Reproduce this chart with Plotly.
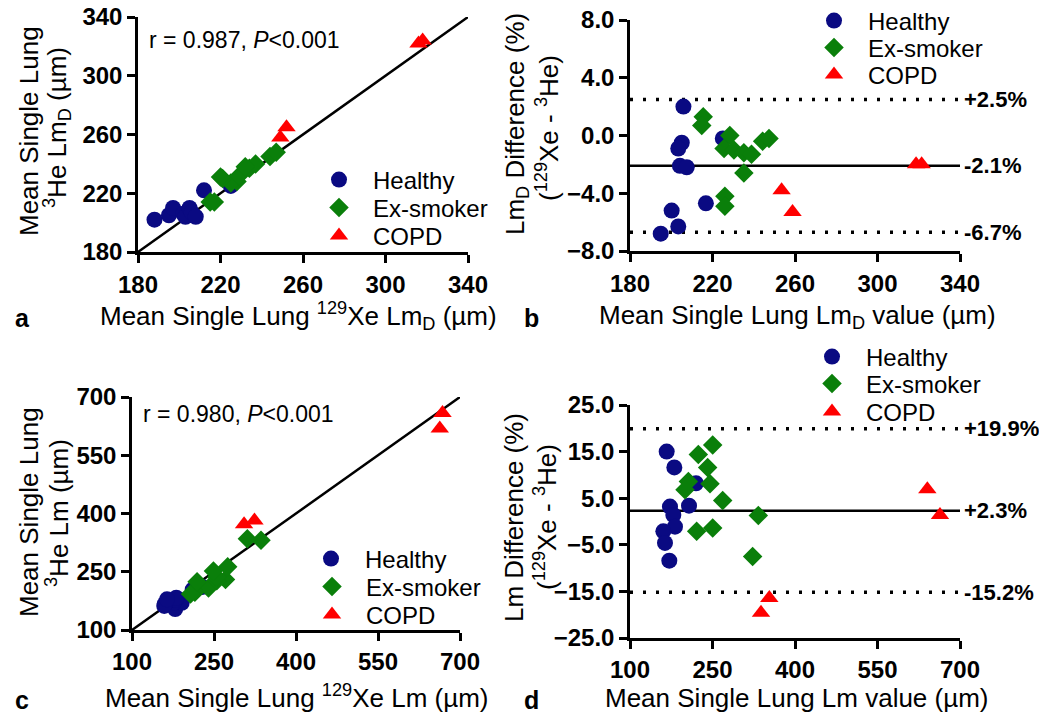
import plotly.graph_objects as go

# ---------------- data ----------------
# Panel a: 129Xe LmD vs 3He LmD (µm)
a_healthy_xe = [188, 195, 197, 202, 203, 205, 206, 208, 212, 225]
a_healthy_he = [202, 205, 210, 206, 204, 210, 207, 204, 222, 225]
a_ex_xe = [217, 215, 228, 225, 229, 234, 237, 232, 221, 220, 244, 247]
a_ex_he = [214, 214, 228, 227, 232, 237, 240, 238, 230, 231, 245, 248]
a_copd_xe = [249, 252, 316, 318]
a_copd_he = [258, 265, 322, 324]
a_range = [180, 340]
a_ticks = [180, 220, 260, 300, 340]

# Panel b: Bland-Altman LmD
b_healthy_mean = [205.9, 205.1, 203.4, 204.2, 207.5, 225.0, 216.8, 200.2, 203.4, 194.9]
b_healthy_diff = [2.0, -0.5, -0.9, -2.1, -2.2, -0.2, -4.7, -5.2, -6.3, -6.8]
b_ex_mean = [215.5, 214.8, 228.4, 225.6, 230.4, 235.2, 238.9, 235.2, 226.0, 226.0, 244.3, 247.4]
b_ex_diff = [1.3, 0.7, 0.0, -0.9, -1.0, -1.2, -1.3, -2.6, -4.2, -4.9, -0.4, -0.2]
b_copd_mean = [253.5, 258.8, 318.7, 321.4]
b_copd_diff = [-3.8, -5.3, -2.0, -2.0]
b_bias, b_upper, b_lower = -2.1, 2.5, -6.7
b_xrange = [180, 340]
b_yrange = [-8, 8]
b_xticks = [180, 220, 260, 300, 340]
b_yticks = [-8, -4, 0, 4, 8]

# Panel c: 129Xe Lm vs 3He Lm (µm)
c_healthy_xe = [179, 191, 229, 211, 176, 180, 181, 159, 160, 164]
c_healthy_he = [154, 170, 211, 204, 170, 178, 183, 162, 167, 179]
c_ex_xe = [271, 240, 255, 215, 207, 255, 275, 219, 249, 336, 311]
c_ex_he = [230, 208, 227, 197, 193, 236, 263, 224, 252, 331, 335]
c_copd_xe = [305, 324, 663, 668]
c_copd_he = [372, 382, 619, 659]
c_range = [100, 700]
c_ticks = [100, 250, 400, 550, 700]

# Panel d: Bland-Altman Lm
d_healthy_mean = [166.7, 180.6, 220.0, 207.3, 172.7, 178.8, 181.8, 160.6, 163.6, 171.5]
d_healthy_diff = [15.0, 11.6, 8.2, 3.4, 3.2, 1.4, -1.1, -2.1, -4.6, -8.4]
d_ex_mean = [250.3, 224.2, 241.2, 206.1, 200.0, 245.5, 268.5, 221.2, 250.3, 333.3, 323.0]
d_ex_diff = [16.4, 14.4, 11.6, 8.6, 6.8, 8.1, 4.5, -2.1, -1.4, 1.3, -7.5]
d_copd_mean = [353.3, 338.2, 640.6, 663.6]
d_copd_diff = [-16.4, -19.6, 6.9, 1.4]
d_bias, d_upper, d_lower = 2.3, 19.9, -15.2
d_xrange = [100, 700]
d_yrange = [-25, 25]
d_xticks = [100, 250, 400, 550, 700]
d_yticks = [-25, -15, -5, 5, 15, 25]

groups = ["Healthy", "Ex-smoker", "COPD"]

# ---------------- style ----------------
FONT = "Liberation Sans, Arial, sans-serif"
W, H = 1039, 714
NAVY = "#0a0a82"
GREEN = "#0a7f0a"
RED = "#ff0000"
styles = {
    "Healthy": dict(symbol="circle", color=NAVY, size=16),
    "Ex-smoker": dict(symbol="diamond", color=GREEN, size=15),
    "COPD": dict(symbol="triangle-up", color=RED, size=16),
}


def px_x(p):
    return p / W


def px_y(p):
    return 1 - p / H


fig = go.Figure()
legend_layouts = {}
legfont = dict(family=FONT, size=24, color="black")
ITEMW = 58
SYM_OFF = 34


def add_group(xs, ys, name, xa, ya, leg_px):
    st = styles[name]
    lid = "legend" if not legend_layouts else f"legend{len(legend_layouts) + 1}"
    legend_layouts[lid] = dict(
        x=px_x(leg_px[0] - SYM_OFF), y=px_y(leg_px[1]), xanchor="left", yanchor="middle",
        bgcolor="rgba(0,0,0,0)", borderwidth=0, font=legfont,
        itemsizing="trace", itemwidth=ITEMW)
    fig.add_trace(go.Scatter(
        x=xs, y=ys, mode="markers", name=name, xaxis=xa, yaxis=ya,
        legend=lid, showlegend=True, cliponaxis=False,
        marker=dict(symbol=st["symbol"], color=st["color"], size=st["size"],
                    line=dict(width=0)),
    ))


def add_line(xs, ys, xa, ya, dash="solid", width=2.5):
    fig.add_trace(go.Scatter(
        x=xs, y=ys, mode="lines", xaxis=xa, yaxis=ya, showlegend=False,
        hoverinfo="skip", line=dict(color="black", width=width, dash=dash),
    ))


DOT = "3px,10px"

# panel a (legend marker centres in pixels)
add_line(a_range, a_range, "x", "y")
add_group(a_healthy_xe, a_healthy_he, "Healthy", "x", "y", (339, 180))
add_group(a_ex_xe, a_ex_he, "Ex-smoker", "x", "y", (339, 208))
add_group(a_copd_xe, a_copd_he, "COPD", "x", "y", (339, 236))

# panel b
add_line(b_xrange, [b_upper, b_upper], "x2", "y2", dash=DOT, width=3.5)
add_line(b_xrange, [b_lower, b_lower], "x2", "y2", dash=DOT, width=3.5)
add_line(b_xrange, [b_bias, b_bias], "x2", "y2")
add_group(b_healthy_mean, b_healthy_diff, "Healthy", "x2", "y2", (834, 21))
add_group(b_ex_mean, b_ex_diff, "Ex-smoker", "x2", "y2", (834, 48))
add_group(b_copd_mean, b_copd_diff, "COPD", "x2", "y2", (834, 75))

# panel c
add_line(c_range, c_range, "x3", "y3")
add_group(c_healthy_xe, c_healthy_he, "Healthy", "x3", "y3", (331, 559))
add_group(c_ex_xe, c_ex_he, "Ex-smoker", "x3", "y3", (332, 587))
add_group(c_copd_xe, c_copd_he, "COPD", "x3", "y3", (332, 615))

# panel d
add_line(d_xrange, [d_upper, d_upper], "x4", "y4", dash=DOT, width=3.5)
add_line(d_xrange, [d_lower, d_lower], "x4", "y4", dash=DOT, width=3.5)
add_line(d_xrange, [d_bias, d_bias], "x4", "y4")
add_group(d_healthy_mean, d_healthy_diff, "Healthy", "x4", "y4", (832, 357))
add_group(d_ex_mean, d_ex_diff, "Ex-smoker", "x4", "y4", (832, 384))
add_group(d_copd_mean, d_copd_diff, "COPD", "x4", "y4", (832, 412))

tickfont = dict(family=FONT, size=24, color="black", weight="bold")


def axis(domain, rng, ticks, fmt=None, anchor=None, standoff=0):
    d = dict(domain=domain, range=rng, tickvals=ticks, showline=True,
             linecolor="black", linewidth=2.5, ticks="outside", ticklen=8,
             tickwidth=2.5, tickcolor="black", showgrid=False, zeroline=False,
             tickfont=tickfont, fixedrange=True, anchor=anchor, automargin=False,
             ticklabelstandoff=standoff)
    if fmt:
        d["tickformat"] = fmt
    return d


layout = dict(
    width=W, height=H,
    margin=dict(l=0, r=0, t=0, b=0, autoexpand=False),
    paper_bgcolor="white", plot_bgcolor="white",
    font=dict(family=FONT, color="black"),
    xaxis=axis([px_x(138), px_x(468)], a_range, a_ticks, anchor="y", standoff=1),
    yaxis=axis([px_y(252), px_y(17)], a_range, a_ticks, anchor="x"),
    xaxis2=axis([px_x(630), px_x(960)], b_xrange, b_xticks, anchor="y2", standoff=1),
    yaxis2=axis([px_y(251), px_y(20)], b_yrange, b_yticks, fmt=".1f", anchor="x2"),
    xaxis3=axis([px_x(132), px_x(460)], c_range, c_ticks, anchor="y3", standoff=0),
    yaxis3=axis([px_y(630), px_y(397)], c_range, c_ticks, anchor="x3"),
    xaxis4=axis([px_x(630), px_x(960)], d_xrange, d_xticks, anchor="y4", standoff=0),
    yaxis4=axis([px_y(638), px_y(405)], d_yrange, d_yticks, fmt=".1f", anchor="x4"),
    showlegend=True,
)
layout.update(legend_layouts)
fig.update_layout(**layout)

ann = []
tfont = dict(family=FONT, size=26, color="black")


def text(x, y, s, font=tfont, angle=0, xanchor="center", yanchor="middle", xref="paper", yref="paper"):
    ann.append(dict(x=x, y=y, text=s, showarrow=False, font=font, textangle=angle,
                    xanchor=xanchor, yanchor=yanchor, xref=xref, yref=yref))


# y-axis titles (each line placed separately)
text(px_x(29), px_y(131), "Mean Single Lung", angle=-90)
text(px_x(57), px_y(128), "<sup>3</sup>He Lm<sub>D</sub> (µm)", angle=-90)
text(px_x(516), px_y(124), "Lm<sub>D</sub> Difference (%)", angle=-90)
text(px_x(547), px_y(128), "(<sup>129</sup>Xe - <sup>3</sup>He)", angle=-90)
text(px_x(29), px_y(512), "Mean Single Lung", angle=-90)
text(px_x(57), px_y(513), "<sup>3</sup>He Lm (µm)", angle=-90)
text(px_x(514), px_y(518), "Lm Difference (%)", angle=-90)
text(px_x(545), px_y(517), "(<sup>129</sup>Xe - <sup>3</sup>He)", angle=-90)

# x-axis titles
text(px_x(298), px_y(316), "Mean Single Lung <sup>129</sup>Xe Lm<sub>D</sub> (µm)")
text(px_x(797), px_y(316), "Mean Single Lung Lm<sub>D</sub> value (µm)")
text(px_x(297), px_y(696), "Mean Single Lung <sup>129</sup>Xe Lm (µm)")
text(px_x(797), px_y(698), "Mean Single Lung Lm value (µm)")

# correlation labels
rfont = dict(family=FONT, size=23, color="black")
text(px_x(147), px_y(40), "r = 0.987, <i>P</i>&lt;0.001", font=rfont, xanchor="left")
text(px_x(141), px_y(414), "r = 0.980, <i>P</i>&lt;0.001", font=rfont, xanchor="left")

# limit labels
bfont = dict(family=FONT, size=22, color="black", weight="bold")
for v in (b_upper, b_bias, b_lower):
    text(px_x(962), v, f"{v:+.1f}%", font=bfont, xanchor="left", yref="y2")
for v in (d_upper, d_bias, d_lower):
    text(px_x(962), v, f"{v:+.1f}%", font=bfont, xanchor="left", yref="y4")

# panel letters
lfont = dict(family=FONT, size=25, color="black", weight="bold")
text(px_x(22), px_y(318), "a", font=lfont)
text(px_x(531), px_y(318), "b", font=lfont)
text(px_x(22), px_y(700), "c", font=lfont)
text(px_x(531), px_y(700), "d", font=lfont)

fig.update_layout(annotations=ann)
fig.write_html("out.html", config={"displayModeBar": False},
               post_script="document.body.style.margin='0px';")
